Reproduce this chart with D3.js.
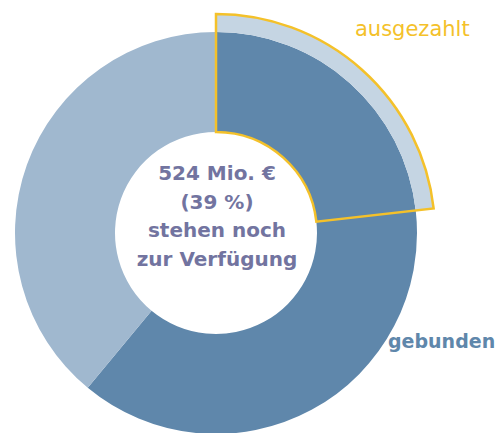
<!DOCTYPE html>
<html>
<head>
    <meta charset="utf-8" />
    <title>Mittel</title>
    <script src="https://d3js.org/d3.v7.min.js"></script>
    <style>
        body { margin: 0; background: #fff; }
        text { font-family: "DejaVu Sans", "Open Sans", sans-serif; }
    </style>
</head>
<body>
    <svg id="chart" width="500" height="433"></svg>

    <script>
        // values in Mio. €
        var categories = ["ausgezahlt", "gebunden", "verfügbar"];
        var values = [312, 508, 524];
        var colors = ["#5f87ab", "#5f87ab", "#a0b8cf"];
        var centerLines = ["524 Mio. €", "(39 %)", "stehen noch", "zur Verfügung"];

        var cx = 216, cy = 233;
        var rInner = 101, rOuter = 201, rExplode = 219;

        var svg = d3.select("#chart");
        var g = svg.append("g").attr("transform", "translate(" + cx + "," + cy + ")");

        var pie = d3.pie().sort(null).value(function (d) { return d; });
        var slices = pie(values);

        var arc = d3.arc().innerRadius(rInner).outerRadius(rOuter);

        //main ring
        g.selectAll("path.slice")
            .data(slices)
            .enter().append("path")
            .attr("class", "slice")
            .attr("d", arc)
            .attr("fill", function (d, i) { return colors[i]; });

        //ausgezahlt: outer band + outline
        var paid = slices[0];
        g.append("path")
            .attr("d", d3.arc().innerRadius(rOuter).outerRadius(rExplode)(paid))
            .attr("fill", "#c5d5e3");

        g.append("path")
            .attr("d", d3.arc().innerRadius(rInner).outerRadius(rExplode)(paid))
            .attr("fill", "none")
            .attr("stroke", "#f4c12a")
            .attr("stroke-width", 2.5)
            .attr("stroke-linejoin", "miter");

        //labels
        svg.append("text")
            .attr("x", 355).attr("y", 36)
            .attr("fill", "#f4c12a")
            .attr("font-size", 21)
            .text(categories[0]);

        svg.append("text")
            .attr("x", 388).attr("y", 348)
            .attr("fill", "#5f87ab")
            .attr("font-size", 19)
            .attr("font-weight", 700)
            .text(categories[1]);

        //center text
        g.selectAll("text.center")
            .data(centerLines)
            .enter().append("text")
            .attr("class", "center")
            .attr("x", 1)
            .attr("y", function (d, i) { return -53 + i * 28.5; })
            .attr("text-anchor", "middle")
            .attr("fill", "#7274a0")
            .attr("font-size", 20)
            .attr("font-weight", 700)
            .text(function (d) { return d; });
    </script>
</body>
</html>
